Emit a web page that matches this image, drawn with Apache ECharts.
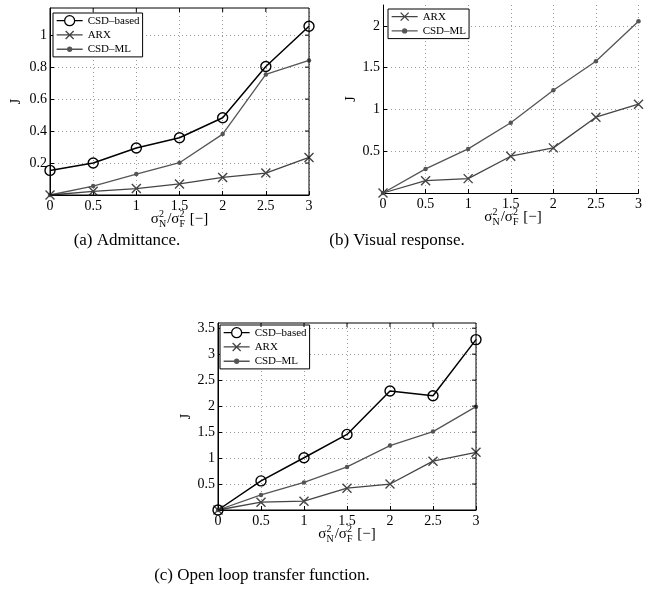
<!DOCTYPE html>
<html>
<head>
<meta charset="utf-8">
<script src="https://cdn.jsdelivr.net/npm/echarts@6/dist/echarts.min.js"></script>
<style>
html,body{margin:0;padding:0;background:#fff;}
#chart{width:645px;height:598px;}
</style>
</head>
<body>
<div id="chart"></div>
<script>
// ---- data ----
const xValues = [0, 0.5, 1, 1.5, 2, 2.5, 3];
const xTickLabels = ['0', '0.5', '1', '1.5', '2', '2.5', '3'];
const seriesNames = ['CSD–based', 'ARX', 'CSD–ML'];

// (a) Admittance
const admCSD = [0.154, 0.200, 0.294, 0.358, 0.483, 0.804, 1.056];
const admARX = [0.0, 0.023, 0.040, 0.069, 0.110, 0.137, 0.235];
const admML  = [0.0, 0.056, 0.131, 0.202, 0.381, 0.754, 0.842];

// (b) Visual response
const visARX = [0.0, 0.148, 0.172, 0.440, 0.540, 0.907, 1.063];
const visML  = [0.0, 0.288, 0.528, 0.840, 1.230, 1.576, 2.056];

// (c) Open loop transfer function
const olCSD = [0.0, 0.56, 1.006, 1.455, 2.29, 2.20, 3.28];
const olARX = [0.0, 0.15, 0.17, 0.42, 0.50, 0.94, 1.11];
const olML  = [0.0, 0.29, 0.53, 0.83, 1.24, 1.51, 1.99];

const captions = ['(a) Admittance.', '(b) Visual response.', '(c) Open loop transfer function.'];
const yAxisTitle = 'J';

// ---- layout ----
const FONT = '"Liberation Serif", "DejaVu Serif", serif';
const grids = [
  {left: 50, top: 8, width: 259, height: 187, ymax: 1.17, yint: 0.2, box: true, nameGap: 27},
  {left: 383, top: 5, width: 260, height: 188, ymax: 2.25, yint: 0.5, box: false, nameGap: 23},
  {left: 218, top: 323, width: 258, height: 187, ymax: 3.6, yint: 0.5, box: true, nameGap: 25}
];

const pairs = ys => xValues.map((x, i) => [x, ys[i]]);

const styles = {
  'CSD–based': {color: '#000', symbol: 'circle', size: 10, width: 1.5, fill: 'rgba(0,0,0,0)',
    icon: 'path://M0,0M26,10M0,5L8,5M18,5L26,5M18,5A5,5 0 1,1 8,5A5,5 0 1,1 18,5'},
  'ARX': {color: '#444', symbol: 'path://M0,0L10,10M10,0L0,10', size: 9, width: 1.3, fill: 'rgba(0,0,0,0)',
    icon: 'path://M0,0M26,10M0,5L26,5M9,1L17,9M17,1L9,9'},
  'CSD–ML': {color: '#555', symbol: 'circle', size: 4.5, width: 1.3, fill: '#555',
    icon: 'path://M0,0M26,10M0,5L26,5M11,5A2,2 0 1,1 15,5A2,2 0 1,1 11,5'}
};

function mkSeries(name, data, gi) {
  const s = styles[name];
  return {
    name: name, type: 'line', xAxisIndex: gi, yAxisIndex: gi,
    data: pairs(data), symbol: s.symbol, symbolSize: s.size, showAllSymbol: true,
    lineStyle: {color: s.color, width: s.width},
    itemStyle: {color: s.fill, borderColor: s.color, borderWidth: name === 'CSD–ML' ? 0 : 1.4},
    emphasis: {disabled: true}, animation: false, clip: false
  };
}

const series = [
  mkSeries('CSD–ML', admML, 0), mkSeries('ARX', admARX, 0), mkSeries('CSD–based', admCSD, 0),
  mkSeries('CSD–ML', visML, 1), mkSeries('ARX', visARX, 1),
  mkSeries('CSD–ML', olML, 2), mkSeries('ARX', olARX, 2), mkSeries('CSD–based', olCSD, 2)
];

const isMultiple = (v, step) => Math.abs(v / step - Math.round(v / step)) < 1e-6;

const xAxes = grids.map((g, i) => ({
  type: 'value', gridIndex: i, min: 0, max: 3, interval: 0.5,
  axisLine: {show: true, onZero: false, lineStyle: {color: '#000', width: 1}},
  axisTick: {show: true, inside: true, length: 4, lineStyle: {color: '#000'}},
  axisLabel: {color: '#000', fontFamily: FONT, fontSize: 14, margin: 4,
    formatter: v => { const k = xValues.indexOf(Math.round(v * 100) / 100); return k >= 0 ? xTickLabels[k] : ''; }},
  splitLine: {show: true, lineStyle: {color: '#9a9a9a', type: [1, 3], width: 1}}
}));

const yAxes = grids.map((g, i) => ({
  type: 'value', gridIndex: i, min: 0, max: g.ymax, interval: g.yint,
  name: yAxisTitle, nameLocation: 'middle', nameRotate: 90, nameGap: g.nameGap,
  nameTextStyle: {color: '#000', fontFamily: FONT, fontSize: 14},
  axisLine: {show: true, lineStyle: {color: '#000', width: 1}},
  axisTick: {show: true, inside: true, length: 4, lineStyle: {color: '#000'},
    customValues: (function(){ const a=[]; for (let v=g.yint; v<=g.ymax+1e-9; v+=g.yint) a.push(Math.round(v*100)/100); return a; })()},
  axisLabel: {color: '#000', fontFamily: FONT, fontSize: 14, margin: 3,
    formatter: v => (v > 0 && isMultiple(v, g.yint)) ? String(Math.round(v * 100) / 100) : ''},
  splitLine: {show: true, lineStyle: {color: '#9a9a9a', type: [1, 3], width: 1}}
}));

function legendData(names) {
  return names.map(n => ({
    name: n, icon: styles[n].icon,
    itemStyle: {color: n === 'CSD–ML' ? styles[n].color : 'rgba(0,0,0,0)', borderColor: styles[n].color, borderWidth: 1.3}
  }));
}

const legends = [
  {data: legendData(seriesNames), left: 53, top: 13},
  {data: legendData(['ARX', 'CSD–ML']), left: 388, top: 9},
  {data: legendData(seriesNames), left: 220, top: 325}
].map(l => Object.assign({
  orient: 'vertical', itemWidth: 26, itemHeight: 10, itemGap: 3,
  padding: [2, 3, 2, 3], borderColor: '#000', borderWidth: 1, backgroundColor: '#fff',
  symbolKeepAspect: false,
  textStyle: {color: '#000', fontFamily: FONT, fontSize: 11}, selectedMode: false
}, l));

// x-axis name with super/subscripts as real text
const measure = (function(){ const c = document.createElement('canvas').getContext('2d');
  return (t, size) => { c.font = size + 'px "Liberation Serif"'; return c.measureText(t).width; }; })();

function axisName(cx, cy) {
  const main = 15, small = 10;
  const parts = [
    {t: 'σ'}, {sup: '2', sub: 'N'}, {t: '/σ'}, {sup: '2', sub: 'F'}, {t: ' [−]'}
  ];
  let total = 0;
  parts.forEach(p => { p.w = p.t ? measure(p.t, main) : Math.max(measure(p.sup, small), measure(p.sub, small)) + 1; total += p.w; });
  let x = cx - total / 2;
  const els = [];
  parts.forEach(p => {
    if (p.t) {
      els.push({type: 'text', x: x, y: cy, style: {text: p.t, fill: '#000', font: main + 'px ' + FONT, textVerticalAlign: 'middle'}});
    } else {
      els.push({type: 'text', x: x, y: cy - 5, style: {text: p.sup, fill: '#000', font: small + 'px ' + FONT, textVerticalAlign: 'middle'}});
      els.push({type: 'text', x: x, y: cy + 5, style: {text: p.sub, fill: '#000', font: small + 'px ' + FONT, textVerticalAlign: 'middle'}});
    }
    x += p.w;
  });
  return els;
}

// mirrored inward ticks on top / right edges of boxed axes
function mirrorTicks(g) {
  const els = [];
  for (let k = 1; k < xValues.length - 1; k++) {
    const x = g.left + g.width * xValues[k] / 3;
    els.push({type: 'line', shape: {x1: x, y1: g.top, x2: x, y2: g.top + 4}, style: {stroke: '#000', lineWidth: 1}, silent: true, z: 10});
  }
  for (let v = g.yint; v < g.ymax - 1e-9; v += g.yint) {
    const y = g.top + g.height - g.height * v / g.ymax;
    els.push({type: 'line', shape: {x1: g.left + g.width, y1: y, x2: g.left + g.width - 4, y2: y}, style: {stroke: '#000', lineWidth: 1}, silent: true, z: 10});
  }
  return els;
}

const graphics = [];
grids.forEach((g, i) => {
  axisName(g.left + g.width / 2, g.top + g.height + 24).forEach(e => graphics.push(e));
  if (g.box) {
    graphics.push({type: 'rect', shape: {x: g.left, y: g.top, width: g.width, height: g.height}, z: 10, silent: true,
      style: {fill: 'none', stroke: '#000', lineWidth: 1}});
    mirrorTicks(g).forEach(e => graphics.push(e));
  }
});
const capPos = [[127, 241], [397, 241], [262, 576]];
captions.forEach((c, i) => graphics.push({type: 'text', x: capPos[i][0], y: capPos[i][1],
  style: {text: c, fill: '#000', font: '17px ' + FONT, textAlign: 'center', textVerticalAlign: 'middle'}}));

const chart = echarts.init(document.getElementById('chart'), null, {renderer: 'canvas'});
chart.setOption({
  animation: false,
  backgroundColor: '#fff',
  grid: grids.map(g => ({left: g.left, top: g.top, width: g.width, height: g.height, containLabel: false})),
  xAxis: xAxes, yAxis: yAxes, series: series, legend: legends, graphic: graphics
});
</script>
</body>
</html>
